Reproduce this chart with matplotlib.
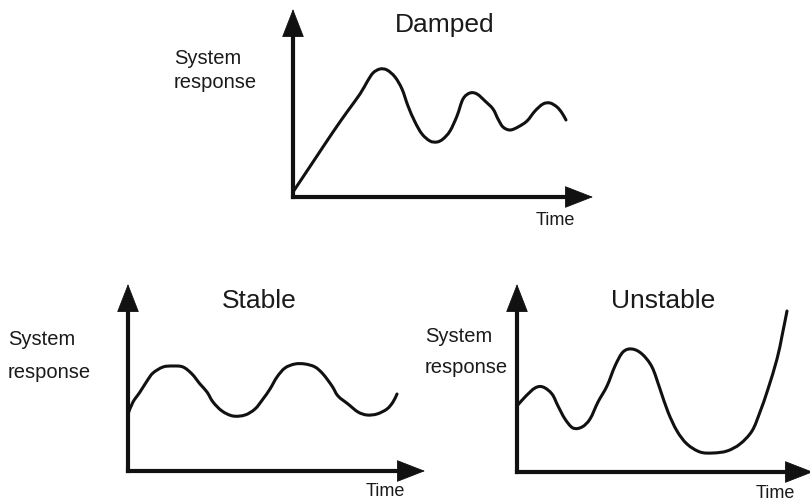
import matplotlib
matplotlib.use("Agg")
import matplotlib.pyplot as plt
from matplotlib.path import Path
from matplotlib.patches import PathPatch

# ---- data (time, system response) ----
damped_t = [0, 20, 40, 54, 67, 74, 80, 87, 94, 102, 109, 115, 122, 129, 137, 144, 150,
            157, 164, 170, 177, 184, 192, 200, 205, 210, 217, 225, 234, 242, 250, 257,
            264, 269, 273]
damped_r = [5, 35, 65, 85, 103, 115, 124, 128, 127, 120, 108, 91, 75, 63, 56, 55, 58,
            66, 81, 98, 104, 103, 96, 88, 78, 70, 67, 70, 76, 86, 93, 94, 90, 84, 77]

stable_t = [0, 5, 12, 19, 25, 35, 45, 55, 64, 72, 79, 85, 94, 105, 117, 127, 135, 142,
            149, 157, 167, 177, 187, 195, 204, 210, 220, 230, 239, 249, 259, 265, 269]
stable_r = [57, 69, 79, 90, 98, 104, 105, 104, 97, 87, 79, 69, 60, 55, 56, 62, 72, 82,
            94, 103, 107, 107, 104, 97, 85, 75, 67, 59, 56, 57, 62, 69, 77]

unstable_t = [0, 8, 18, 26, 35, 41, 48, 56, 65, 73, 81, 90, 98, 106, 115, 125, 135, 143,
              151, 160, 170, 183, 196, 210, 223, 235, 243, 251, 260, 265, 270]
unstable_r = [66, 75, 84, 85, 78, 66, 53, 44, 45, 53, 70, 86, 106, 120, 123, 118, 105, 83,
              60, 41, 28, 20, 19, 21, 28, 41, 60, 83, 113, 136, 161]

titles = ["Damped", "Stable", "Unstable"]
xlabel = "Time"

W, H = 810, 502
fig = plt.figure(figsize=(W / 100, H / 100), dpi=100)
FONT = "Liberation Sans"
INK = "#111111"


def smooth_curve(ax, xs, ys, lw=2.2):
    """Draw a smooth curve through the data points (Catmull-Rom as cubic Bezier)."""
    pts = list(zip(xs, ys))
    n = len(pts)
    verts = [pts[0]]
    codes = [Path.MOVETO]
    for i in range(n - 1):
        p0 = pts[i - 1] if i > 0 else pts[i]
        p1 = pts[i]
        p2 = pts[i + 1]
        p3 = pts[i + 2] if i + 2 < n else pts[i + 1]
        c1 = (p1[0] + (p2[0] - p0[0]) / 6.0, p1[1] + (p2[1] - p0[1]) / 6.0)
        c2 = (p2[0] - (p3[0] - p1[0]) / 6.0, p2[1] - (p3[1] - p1[1]) / 6.0)
        verts += [c1, c2, p2]
        codes += [Path.CURVE4] * 3
    patch = PathPatch(Path(verts, codes), facecolor="none", edgecolor=INK, lw=lw,
                      capstyle="round", joinstyle="round", clip_on=False)
    ax.add_patch(patch)


def make_panel(ox, oy, xt, yt):
    """ox, oy: origin pixel; xt: x-arrow tip pixel; yt: y-arrow tip pixel"""
    w = xt - ox
    h = oy - yt
    ax = fig.add_axes([ox / W, 1 - oy / H, w / W, h / H])
    ax.set_xlim(0, w)
    ax.set_ylim(0, h)
    ax.axis("off")
    # shafts
    ax.plot([0, 0], [0, h - 12], color=INK, lw=3.0, solid_capstyle="projecting",
            clip_on=False)
    ax.plot([0, w - 12], [0, 0], color=INK, lw=3.0, solid_capstyle="projecting",
            clip_on=False)
    # heads
    hp = dict(arrowstyle="-|>,head_length=19,head_width=7.4", mutation_scale=1,
              lw=0.6, color=INK, shrinkA=0, shrinkB=0)
    ax.annotate("", xy=(0, h), xytext=(0, h - 30), xycoords="data",
                arrowprops=hp, annotation_clip=False)
    ax.annotate("", xy=(w, 0), xytext=(w - 30, 0), xycoords="data",
                arrowprops=hp, annotation_clip=False)
    return ax


def ftext(px, py, s, size, ha="left"):
    fig.text(px / W, 1 - py / H, s, fontsize=size, family=FONT, ha=ha, va="baseline",
             color="#1a1a1a")


# Damped (top)
ax1 = make_panel(293, 198, 593, 10)
smooth_curve(ax1, damped_t, damped_r)
ftext(445, 32, titles[0], 19, ha="center")
ftext(174, 64, "System", 14.5)
ftext(174, 88, "response", 14.5)
ftext(575, 225, xlabel, 13, ha="right")

# Stable (bottom left)
ax2 = make_panel(128, 472, 425, 285)
smooth_curve(ax2, stable_t, stable_r)
ftext(259, 308, titles[1], 19, ha="center")
ftext(8, 345, "System", 14.5)
ftext(8, 378, "response", 14.5)
ftext(405, 496, xlabel, 13, ha="right")

# Unstable (bottom right)
ax3 = make_panel(517, 473, 813, 285)
smooth_curve(ax3, unstable_t, unstable_r)
ftext(663, 308, titles[2], 19, ha="center")
ftext(425, 342, "System", 14.5)
ftext(425, 373, "response", 14.5)
ftext(795, 498, xlabel, 13, ha="right")

fig.savefig("out.png", dpi=100, facecolor="white")
